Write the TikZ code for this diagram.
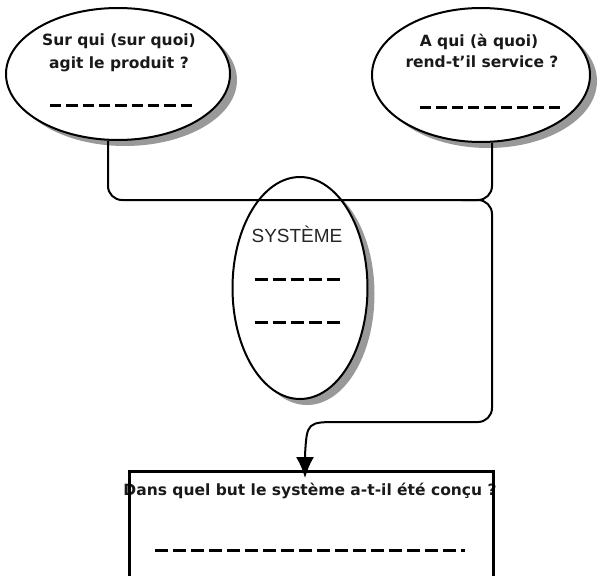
\documentclass[tikz,border=0pt]{standalone}
\usepackage{fontspec}
\setmainfont{DejaVu Sans}
\newfontfamily\sysfont{Liberation Sans}
\usepackage{tikz}
\usetikzlibrary{shapes.geometric, shadows, arrows.meta, calc, positioning}

\newcommand{\tirets}[2]{%
  \foreach \k in {1,...,#1}{\ifnum\k>1 \hspace{5pt}\fi\rule{#2}{3pt}}%
}

\tikzset{
  bulle/.style={ellipse, draw, line width=2pt, fill=white,
    drop shadow={shadow xshift=7pt, shadow yshift=-6pt, fill=black!40, opacity=1}},
  question/.style={font=\bfseries\fontsize{15.5}{18}\selectfont, text=black!90, inner sep=0pt, anchor=base},
  tiret/.style={inner sep=0pt, text=black},
  lien/.style={line width=2pt, rounded corners=14pt},
}

\begin{document}
\begin{tikzpicture}[x=1pt, y=-1pt]
			\clip (0,0) rectangle (598,576);
			
			% les bulles
			\node[bulle, minimum width=224pt, minimum height=132pt] (q1) at (118,74) {};
			\node[bulle, minimum width=218pt, minimum height=134pt] (q2) at (481,75) {};
			\node[bulle, minimum width=135pt, minimum height=222pt] (sys) at (300,288) {};
			
			\node[question] (q1a) at (119,45) {Sur qui (sur quoi)};
			\node[question] (q1b) at (119,68) {agit le produit ?};
			\node[tiret] (q1c) at (121,105) {\tirets{9}{11.3pt}};
			
			\node[question] (q2a) at (479,46) {A qui (à quoi)};
			\node[question] (q2b) at (482,67) {rend-t'il service ?};
			\node[tiret] (q2c) at (490,107) {\tirets{9}{11.1pt}};
			
			\node[anchor=base, inner sep=0pt, text=black!85, font=\sysfont\fontsize{19}{22}\selectfont] (systxt) at (297,242) {SYSTÈME};
			\node[tiret] (sysa) at (297,279) {\tirets{5}{13pt}};
			\node[tiret] (sysb) at (297,322) {\tirets{5}{13pt}};
			
			% le but
			\node[question] (but) at (310,495) {Dans quel but le système a-t-il été conçu ?};
			\node[tiret] (butc) at (310,550) {\tirets{17}{13pt}\hspace{5pt}\rule{4pt}{3pt}};
			\node[draw, line width=3pt, minimum width=364pt, minimum height=140pt, anchor=north west] (goal) at (128,470) {};
			
			% les liens
			\coordinate (jn) at (492,200);
			\coordinate (c1) at (492,422);
			\coordinate (c2) at (340,422);
			\coordinate (tip) at (305,478);
			
			\draw[lien] ($(q1.south)+(-10,0)$) |- (jn) -- (c1) -- (c2);
			\draw[lien] ($(q2.south)+(11,0)$) -- (jn) -- ++(-30,0);
			\draw[line width=2pt, -{Latex[length=21pt,width=18pt]}] (c2) .. controls (307,422) .. (305,455) -- (tip);
			
\end{tikzpicture}
\end{document}
